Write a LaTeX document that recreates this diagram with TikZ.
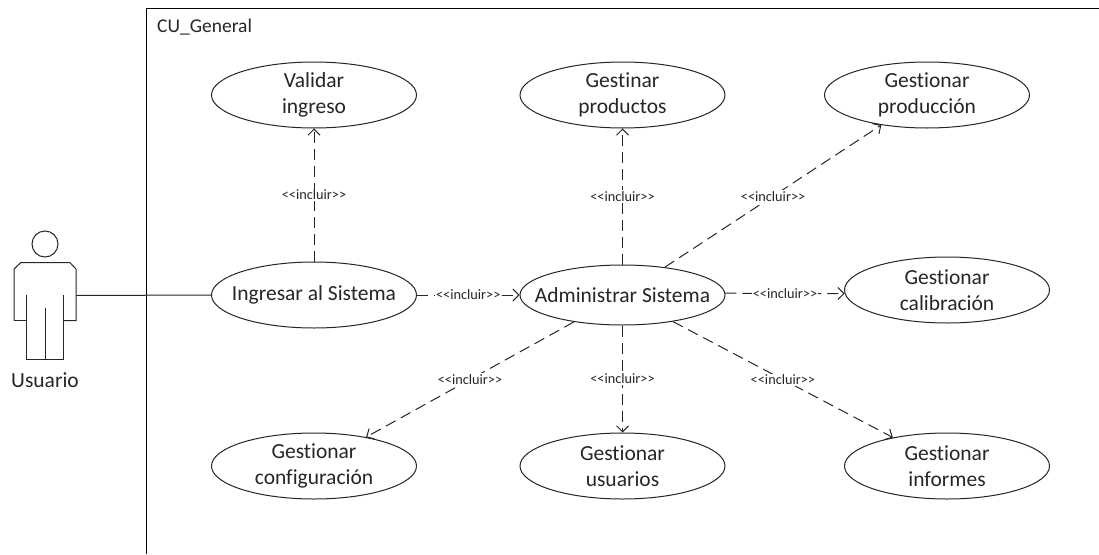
\documentclass[tikz,border=0pt]{standalone}
\usepackage{fontspec}
\setmainfont[RawFeature={-liga;-clig;-dlig}]{Carlito}
\usetikzlibrary{arrows.meta,shapes.geometric}
\tikzset{
 uc/.style={draw=black!85,line width=1pt,ellipse,minimum width=205pt,minimum height=66pt,inner xsep=-25pt,inner ysep=-6pt,align=center,font=\fontsize{21.5}{26}\selectfont,text=black!85},
 inc/.style={draw=black!85,line width=1pt,dash pattern=on 11pt off 6pt,-{Straight Barb[length=6pt,width=12pt,line width=1pt]}},
 lbl/.style={fill=white,inner sep=1pt,font=\fontsize{14.3}{16}\selectfont,text=black!85},
 actorline/.style={draw=black!85,line width=1pt},
}
\begin{document}
\begin{tikzpicture}[x=1pt,y=-1pt]
\useasboundingbox (0,0) rectangle (1099,554);
\fill[white] (0,0) rectangle (1099,554);
\draw[line width=1pt] (146.5,554) -- (146.5,8.5) -- (1099,8.5);
\node[anchor=west,inner sep=0pt,font=\fontsize{19.5}{22}\selectfont,text=black!85] (title) at (157,27) {CU\_General};
% actor
\node[draw=black!85,line width=1pt,circle,minimum size=26pt,inner sep=0pt] (head) at (45,244) {};
\draw[actorline] (14,320.5) -- (14,269) -- (20.7,262.7) -- (70,262.7) -- (76,269) -- (76,320.5) -- (63.3,320.5);
\draw[actorline] (14,320.5) -- (26.7,320.5);
\draw[actorline] (26.7,295) -- (26.7,359.3) -- (63.3,359.3) -- (63.3,295);
\draw[actorline] (45,307.7) -- (45,359.3);
\coordinate (actorhand) at (76,295.5);
\node[anchor=center,inner sep=0pt,font=\fontsize{21.5}{24}\selectfont,text=black!85] (usuario) at (45,380) {Usuario};
% use cases
\node[uc] (validar) at (314,95) {Validar\\ingreso};
\node[uc] (productos) at (622.5,95) {Gestinar\\productos};
\node[uc] (produccion) at (927,95) {Gestionar\\producción};
\node[uc] (ingresar) at (314,295) {Ingresar al Sistema};
\node[uc,minimum height=60pt] (admin) at (622.5,295) {Administrar Sistema};
\node[uc] (calib) at (947,290) {Gestionar\\calibración};
\node[uc] (config) at (314,466) {Gestionar\\configuración};
\node[uc] (usuarios) at (622.5,466) {Gestionar\\usuarios};
\node[uc] (informes) at (947,466) {Gestionar\\informes};
% connectors
\draw[actorline] (actorhand) -- (ingresar.west);
\draw[inc] (ingresar) -- (validar) node[lbl,pos=.5] {<{}<incluir>{}>};
\draw[inc] (ingresar) -- (admin) node[lbl,pos=.5] {<{}<incluir>{}>};
\draw[inc] (admin) -- (productos) node[lbl,pos=.5] {<{}<incluir>{}>};
\draw[inc] (admin) -- (produccion) node[lbl,pos=.5] {<{}<incluir>{}>};
\draw[inc] (admin.1) -- (calib.182) node[lbl,pos=.5] {<{}<incluir>{}>};
\draw[inc] (admin) -- (config) node[lbl,pos=.5] {<{}<incluir>{}>};
\draw[inc] (admin) -- (usuarios) node[lbl,pos=.5] {<{}<incluir>{}>};
\draw[inc] (admin) -- (informes) node[lbl,pos=.5] {<{}<incluir>{}>};
\end{tikzpicture}
\end{document}
